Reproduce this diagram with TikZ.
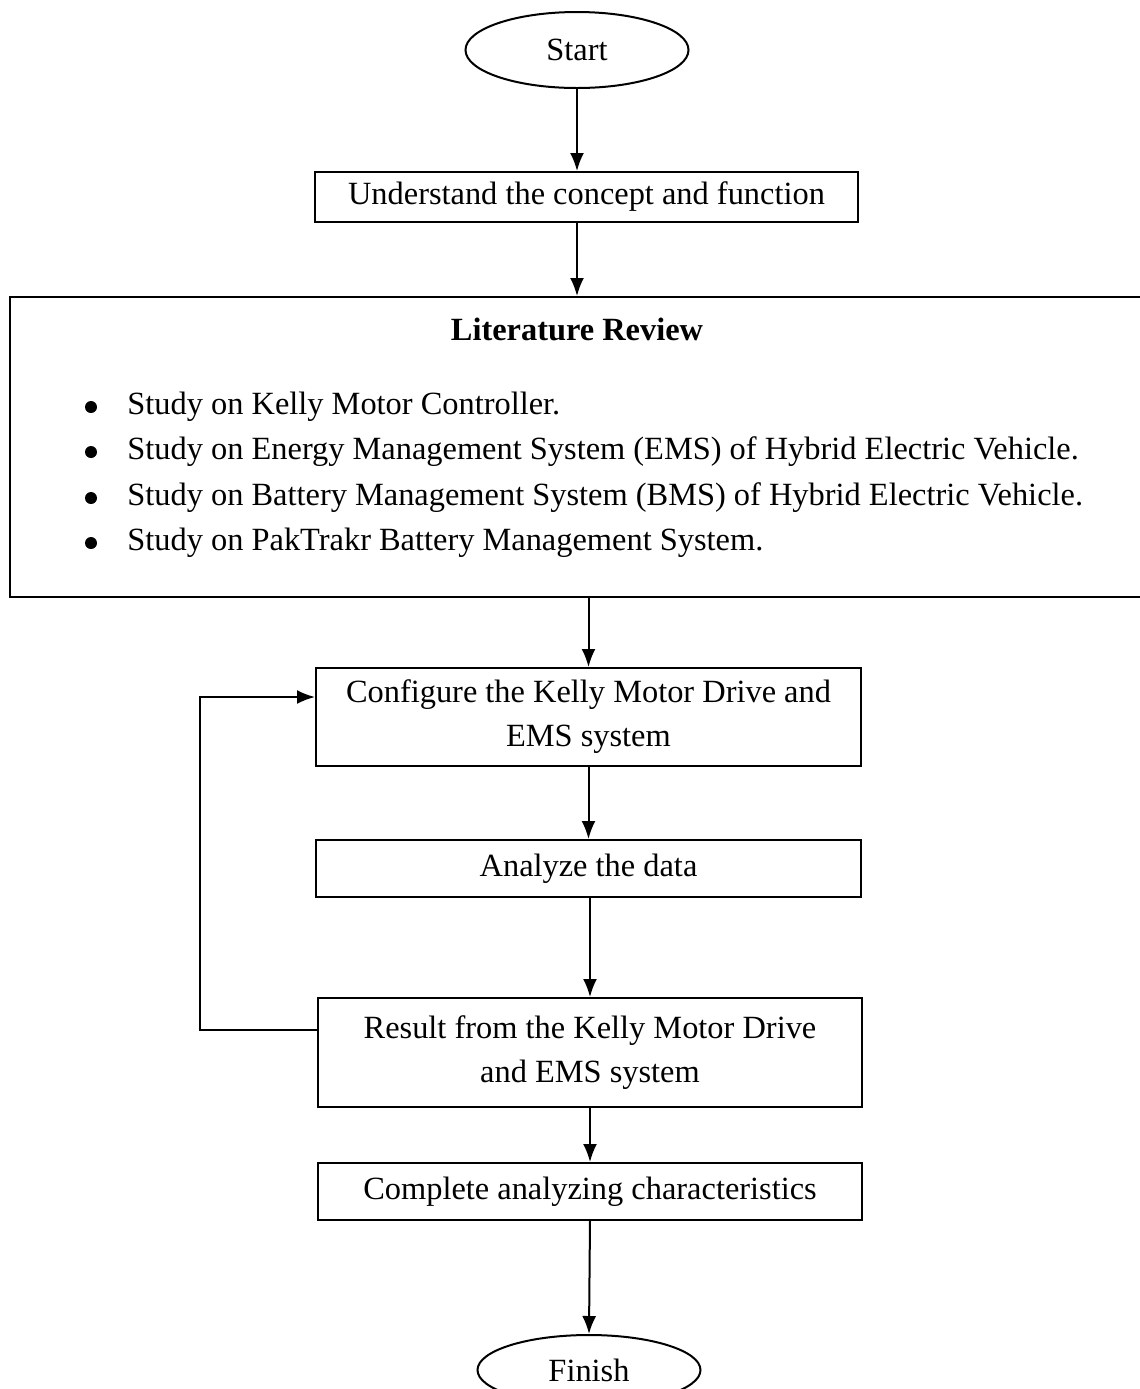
\documentclass[tikz,border=0pt]{standalone}
\usepackage{fontspec}
\setmainfont{Liberation Serif}
\usetikzlibrary{arrows.meta,shapes.geometric}
\begin{document}
\begin{tikzpicture}[x=0.5pt,y=-0.5pt,
  box/.style={draw,line width=1pt,rectangle,inner sep=0pt,align=center,font=\fontsize{16.2}{22}\selectfont},
  oval/.style={draw,line width=1pt,ellipse,inner sep=0pt,font=\fontsize{16.2}{18}\selectfont},
  txt/.style={anchor=base west,inner sep=0pt,font=\fontsize{16.2}{18}\selectfont},
  dot/.style={circle,fill,inner sep=0pt,minimum size=6pt},
  arr/.style={line width=1pt,-{Latex[length=9pt,width=7pt]}}]
\useasboundingbox (0,0) rectangle (1140,1389);
\clip (0,0) rectangle (1140,1389);
\node[oval,minimum width=111.5pt,minimum height=38pt] (start) at (577,50) {Start};
\node[box,minimum width=271.5pt,minimum height=25pt] (und) at (586.5,197) {Understand the concept and function};
\node[box,minimum width=570pt,minimum height=150pt] (lit) at (580,447) {};
\node[txt,anchor=base,font=\fontsize{16.2}{18}\bfseries] (lt) at (577,340) {Literature Review};
\node[dot] (b1) at (91,407) {};
\node[txt] (t1) at (127,414) {Study on Kelly Motor Controller.};
\node[dot] (b2) at (91,452) {};
\node[txt] (t2) at (127,459) {Study on Energy Management System (EMS) of Hybrid Electric Vehicle.};
\node[dot] (b3) at (91,498) {};
\node[txt] (t3) at (127,505) {Study on Battery Management System (BMS) of Hybrid Electric Vehicle.};
\node[dot] (b4) at (91,543) {};
\node[txt] (t4) at (127,550) {Study on PakTrakr Battery Management System.};
\node[box,minimum width=272.5pt,minimum height=49pt] (conf) at (588.5,717) {\raisebox{-2pt}{\parbox{260pt}{\centering Configure the Kelly Motor Drive and\\EMS system}}};
\node[box,minimum width=272.5pt,minimum height=28.5pt] (ana) at (588.5,868.5) {Analyze the data};
\node[box,minimum width=272pt,minimum height=54.5pt] (res) at (590,1052.5) {Result from the Kelly Motor Drive\\and EMS system};
\node[box,minimum width=272pt,minimum height=28.5pt] (comp) at (590,1191.5) {Complete analyzing characteristics};
\node[oval,minimum width=111.5pt,minimum height=35pt] (fin) at (589,1370) {Finish};
\coordinate (fb1) at (200,1030);
\coordinate (fb2) at (200,697);
\draw[arr] (start.south) -- (start.south |- und.north);
\draw[arr] (und.south -| start.south) -- (lit.north -| start.south);
\draw[arr] (conf.north |- lit.south) -- (conf.north);
\draw[arr] (ana.north |- conf.south) -- (ana.north);
\draw[arr] (res.north |- ana.south) -- (res.north);
\draw[arr] (res.south) -- (comp.north);
\draw[arr] (comp.south) -- (fin.north);
\draw[arr] (res.west |- fb1) -- (fb1) -- (fb2) -- (conf.west |- fb2);
\end{tikzpicture}
\end{document}
